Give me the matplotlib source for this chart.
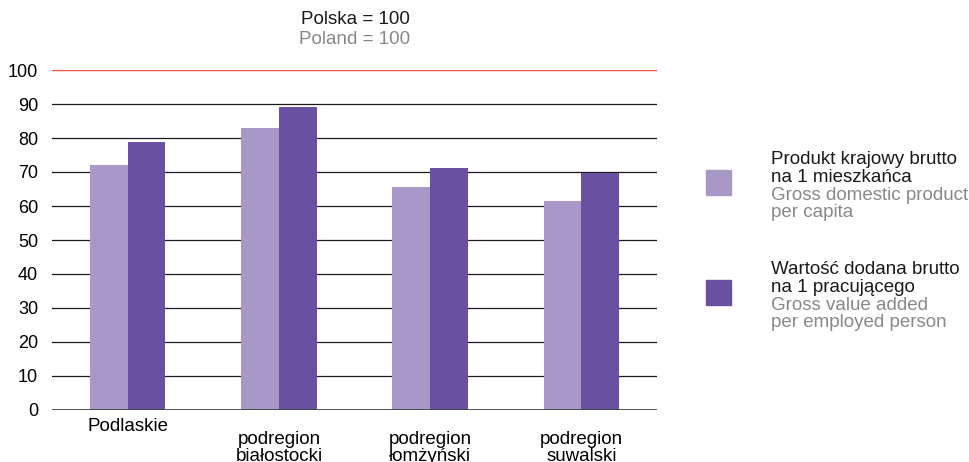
import numpy as np
import matplotlib
matplotlib.use('Agg')
import matplotlib.pyplot as plt
from matplotlib.patches import Rectangle

plt.rcParams['font.family'] = ['Liberation Sans', 'DejaVu Sans']

categories = ['Podlaskie', 'podregion\nbiałostocki', 'podregion\nłomżyński', 'podregion\nsuwalski']
gdp_per_capita = [72.1, 82.9, 65.6, 61.5]
gva_per_worker = [78.8, 89.1, 71.2, 69.7]

light = '#a898c7'
dark = '#6a50a0'

fig = plt.figure(figsize=(9.7, 4.62), dpi=100)
ax = fig.add_axes([52 / 970, (462 - 410) / 462, 605 / 970, 340 / 462])

x = np.arange(len(categories))
w = 0.25
ax.bar(x - w / 2, gdp_per_capita, w, color=light, zorder=3)
ax.bar(x + w / 2, gva_per_worker, w, color=dark, zorder=3)

ax.set_xlim(-0.5, 3.5)
ax.set_ylim(0, 100)
ax.set_yticks(range(0, 101, 10))
for v in range(10, 100, 10):
    ax.axhline(v, color='#1a1a1a', lw=0.9, zorder=1)
ax.axhline(100, color='#f0503c', lw=1.0, zorder=1)
ax.axhline(0, color='#444444', lw=2.0, zorder=4)

for s in ax.spines.values():
    s.set_visible(False)
ax.tick_params(axis='y', length=0, pad=10, labelsize=13)
ax.tick_params(axis='x', length=0, pad=6, labelsize=13.5)
ax.set_xticks(x)
ax.set_xticklabels(categories, linespacing=1.0)
for i, t in enumerate(ax.xaxis.get_major_ticks()):
    if i > 0:
        t.set_pad(15)

fig.text(355 / 970, 1 - 20 / 462, 'Polska = 100', ha='center', va='center', fontsize=13.5, color='#1a1a1a')
fig.text(355 / 970, 1 - 40 / 462, 'Poland = 100', ha='center', va='center', fontsize=13.5, color='#888888')

# legend
for y0, col, lines in [(170, light, ['Produkt krajowy brutto', 'na 1 mieszkańca',
                                      'Gross domestic product', 'per capita']),
                       (280, dark, ['Wartość dodana brutto', 'na 1 pracującego',
                                    'Gross value added', 'per employed person'])]:
    fig.patches.append(Rectangle((706 / 970, 1 - (y0 + 25) / 462), 25 / 970, 25 / 462,
                                 color=col, transform=fig.transFigure))
    for k, txt in enumerate(lines):
        fig.text(771 / 970, 1 - (y0 - 10 + k * 17.6) / 462, txt, ha='left', va='center',
                 fontsize=13.5, color='#1a1a1a' if k < 2 else '#888888')

fig.savefig('out.png', dpi=100)
